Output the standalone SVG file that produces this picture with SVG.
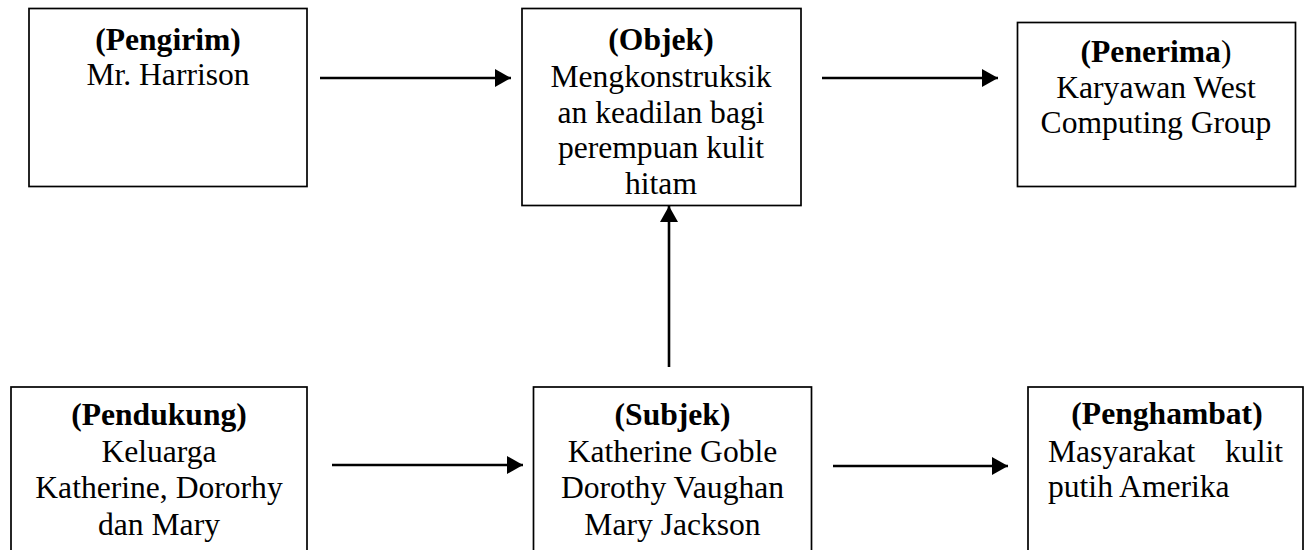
<svg xmlns="http://www.w3.org/2000/svg" width="1307" height="550" viewBox="0 0 1307 550">
  <style>
    .box { fill: #ffffff; stroke: #000000; stroke-width: 1.7; }
    .t { font-family: "Liberation Serif", "Times New Roman", serif; font-size: 31.6px; fill: #000000; }
    .c { text-anchor: middle; }
    .b { font-weight: bold; }
    .link { stroke: #000000; stroke-width: 2.6; fill: none; marker-end: url(#head); }
  </style>
  <defs>
    <marker id="head" markerUnits="userSpaceOnUse" markerWidth="18" markerHeight="20" refX="16" refY="9" orient="auto">
      <path d="M0,0 L16,9 L0,18 Z" fill="#000000"/>
    </marker>
  </defs>
  <rect width="1307" height="550" fill="#ffffff"/>

  <g id="pengirim">
    <rect class="box" x="29" y="8.5" width="278" height="178"/>
    <text class="t c b" x="168" y="50">(Pengirim)</text>
    <text class="t c" x="168" y="85">Mr. Harrison</text>
  </g>

  <g id="objek">
    <rect class="box" x="522" y="8.5" width="279" height="197"/>
    <text class="t c b" x="661" y="50">(Objek)</text>
    <text class="t c" x="661" y="87">Mengkonstruksik</text>
    <text class="t c" x="661" y="123">an keadilan bagi</text>
    <text class="t c" x="661" y="158">perempuan kulit</text>
    <text class="t c" x="661" y="194">hitam</text>
  </g>

  <g id="penerima">
    <rect class="box" x="1017.5" y="22.5" width="278" height="164"/>
    <text class="t c" x="1156" y="62"><tspan class="b">(Penerima</tspan>)</text>
    <text class="t c" x="1156" y="98">Karyawan West</text>
    <text class="t c" x="1156" y="133">Computing Group</text>
  </g>

  <g id="pendukung">
    <rect class="box" x="11" y="387" width="296" height="180"/>
    <text class="t c b" x="159" y="425">(Pendukung)</text>
    <text class="t c" x="159" y="462">Keluarga</text>
    <text class="t c" x="159" y="498">Katherine, Dororhy</text>
    <text class="t c" x="159" y="535">dan Mary</text>
  </g>

  <g id="subjek">
    <rect class="box" x="533.5" y="387" width="278" height="180"/>
    <text class="t c b" x="672.5" y="425">(Subjek)</text>
    <text class="t c" x="672.5" y="462">Katherine Goble</text>
    <text class="t c" x="672.5" y="498">Dorothy Vaughan</text>
    <text class="t c" x="672.5" y="535">Mary Jackson</text>
  </g>

  <g id="penghambat">
    <rect class="box" x="1028" y="387" width="275" height="180"/>
    <text class="t c b" x="1167" y="424">(Penghambat)</text>
    <text class="t" x="1048" y="462">Masyarakat</text>
    <text class="t" x="1283" y="462" text-anchor="end">kulit</text>
    <text class="t" x="1048" y="497">putih Amerika</text>
  </g>

  <g id="connectors">
    <path class="link" d="M320,78 H511"/>
    <path class="link" d="M822,78 H998"/>
    <path class="link" d="M669,367 V206"/>
    <path class="link" d="M332,465 H523"/>
    <path class="link" d="M833,466 H1008"/>
  </g>
</svg>
